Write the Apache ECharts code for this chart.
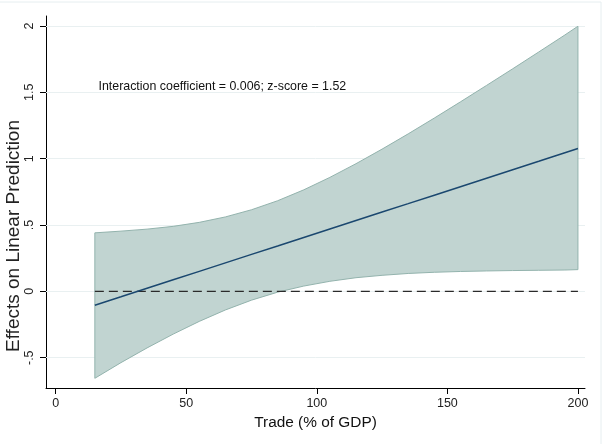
<!DOCTYPE html>
<html>
<head>
<meta charset="utf-8">
<script src="https://cdn.jsdelivr.net/npm/echarts@6/dist/echarts.min.js"></script>
<style>
html,body{margin:0;padding:0;background:#fff;}
#chart{width:611px;height:444px;}
</style>
</head>
<body>
<div id="chart"></div>
<script>
// ---- data ----
const trade  = [15, 25, 35, 45, 55, 65, 75, 85, 95, 105, 115, 125, 135, 145, 155, 165, 175, 185, 195, 200];
const effect = [-0.104, -0.041, 0.023, 0.087, 0.151, 0.215, 0.279, 0.342, 0.406, 0.470, 0.534, 0.598, 0.661, 0.725, 0.789, 0.853, 0.917, 0.980, 1.044, 1.076];
const upper  = [0.441, 0.454, 0.469, 0.490, 0.520, 0.561, 0.615, 0.683, 0.765, 0.859, 0.962, 1.072, 1.187, 1.306, 1.428, 1.552, 1.677, 1.804, 1.932, 1.998];
const lower  = [-0.655, -0.537, -0.426, -0.322, -0.226, -0.140, -0.066, -0.006, 0.040, 0.076, 0.103, 0.121, 0.135, 0.144, 0.150, 0.154, 0.157, 0.159, 0.161, 0.164];
const refX = [15, 200];
const refY = [0, 0];
const xTicks = [0, 50, 100, 150, 200];
const yTicks = [-0.5, 0, 0.5, 1, 1.5, 2];
const yTickLabels = ['-.5', '0', '.5', '1', '1.5', '2'];
const xTitle = 'Trade (% of GDP)';
const yTitle = 'Effects on Linear Prediction';
const note = 'Interaction coefficient = 0.006; z-score = 1.52';
const notePos = [16.4, 1.543];

const FONT = '"Liberation Sans", Arial, sans-serif';
const chart = echarts.init(document.getElementById('chart'), null, {renderer: 'canvas'});

const bandPts = trade.map((x, i) => [x, upper[i]]).concat(
  trade.map((x, i) => [x, lower[i]]).reverse());

chart.setOption({
  animation: false,
  backgroundColor: '#ffffff',
  grid: {left: 46, right: 26, top: 16, bottom: 56, containLabel: false},
  xAxis: {
    type: 'value', min: -3.7, max: 202.7,
    axisLine: {show: true, onZero: false, lineStyle: {color: '#000', width: 1}},
    axisTick: {show: true, length: 6, customValues: xTicks, lineStyle: {color: '#000'}},
    axisLabel: {customValues: xTicks, margin: 9, color: '#222', fontSize: 12.5, fontFamily: FONT},
    splitLine: {show: false},
    name: xTitle, nameLocation: 'middle', nameGap: 16,
    nameTextStyle: {color: '#111', fontSize: 15.4, fontFamily: FONT, verticalAlign: 'top'}
  },
  yAxis: {
    type: 'value', min: -0.728, max: 2.075,
    axisLine: {show: true, onZero: false, lineStyle: {color: '#000', width: 1}},
    axisTick: {show: true, length: 6, customValues: yTicks, lineStyle: {color: '#000'}},
    axisLabel: {customValues: yTicks, rotate: 90, margin: 10, color: '#222', fontSize: 12.5, fontFamily: FONT,
      formatter: v => { const i = yTicks.findIndex(t => Math.abs(t - v) < 1e-9); return i >= 0 ? yTickLabels[i] : ''; }},
    splitLine: {show: false}
  },
  series: [
    {
      type: 'line', data: [], z: 1, silent: true,
      markLine: {
        z: 1, silent: true, symbol: 'none', label: {show: false}, animation: false,
        lineStyle: {color: '#e9f0f1', width: 1, type: 'solid'},
        data: yTicks.map(v => ({yAxis: v}))
      }
    },
    {
      type: 'custom', z: 2, silent: true,
      data: [[trade[0], effect[0]]],
      renderItem: (params, api) => ({
        type: 'polygon',
        shape: {points: bandPts.map(p => api.coord(p))},
        style: {fill: '#c1d4d1', stroke: '#93b3ad', lineWidth: 1}
      })
    },
    {
      type: 'line', z: 3, silent: true, symbol: 'none',
      data: refX.map((x, i) => [x, refY[i]]),
      lineStyle: {color: '#2a2a2a', width: 1.2, type: [9, 5]}
    },
    {
      type: 'line', z: 4, silent: true, symbol: 'none',
      data: trade.map((x, i) => [x, effect[i]]),
      lineStyle: {color: '#1a476f', width: 1.5}
    }
  ]
});

const np = chart.convertToPixel({gridIndex: 0}, notePos);
chart.setOption({
  graphic: [
    {type: 'rect', silent: true, z: 0, shape: {x: -2, y: 2, width: 603, height: 470},
     style: {fill: 'none', stroke: '#e6eef0', lineWidth: 1}},
    {type: 'text', silent: true, z: 10, x: np[0], y: np[1],
     style: {text: note, fill: '#111', font: '12.4px ' + FONT, verticalAlign: 'middle', align: 'left'}},
    {type: 'text', silent: true, z: 10, x: 13.5, y: 236, rotation: Math.PI / 2,
     style: {text: yTitle, fill: '#222', font: '19px ' + FONT, verticalAlign: 'middle', align: 'center'}}
  ]
});
</script>
</body>
</html>
